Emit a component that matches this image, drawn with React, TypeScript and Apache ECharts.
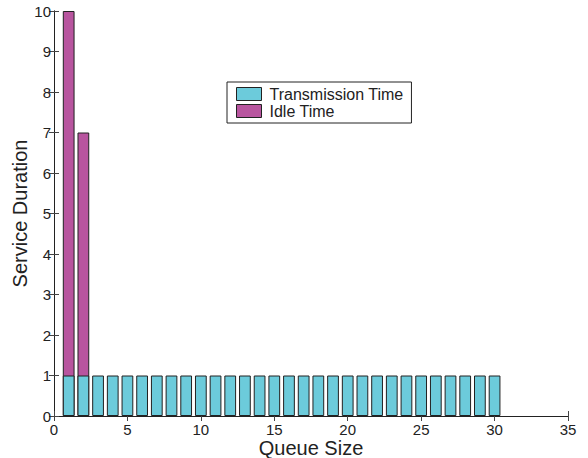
import React, { useEffect, useRef } from "react";
import * as echarts from "echarts";

const queueSizes = Array.from({ length: 30 }, (_, i) => i + 1);
const transmissionTime = [1, 1, 1, 1, 1, 1, 1, 1, 1, 1, 1, 1, 1, 1, 1, 1, 1, 1, 1, 1, 1, 1, 1, 1, 1, 1, 1, 1, 1, 1];
const idleTime = [9, 6, 0, 0, 0, 0, 0, 0, 0, 0, 0, 0, 0, 0, 0, 0, 0, 0, 0, 0, 0, 0, 0, 0, 0, 0, 0, 0, 0, 0];
const xTicks = { min: 0, max: 35, interval: 5 };
const yTicks = { min: 0, max: 10, interval: 1 };

const W = 588;
const H = 458;
const GRID = { left: 54, top: 11, right: 20, bottom: 42 };
const FONT = "Liberation Sans, Arial, Helvetica, sans-serif";

export default function App() {
  const ref = useRef<HTMLDivElement>(null);
  useEffect(() => {
    if (!ref.current) return;
    const chart = echarts.init(ref.current, null, { renderer: "svg" });
    const plotW = W - GRID.left - GRID.right;
    const barW = (plotW / (xTicks.max - xTicks.min)) * 0.8;
    const axisLine = { show: true, lineStyle: { color: "#222", width: 1 } };
    const tick = { show: true, inside: true, length: 5, lineStyle: { color: "#444" } };
    // Idle time is stacked on top of transmission time: the idle bar is drawn
    // first from 0 to (transmission + idle), the transmission bar over it.
    const idleTop = queueSizes
      .map((q, i) => (idleTime[i] > 0 ? [q, transmissionTime[i] + idleTime[i]] : null))
      .filter((d) => d !== null);
    chart.setOption({
      animation: false,
      backgroundColor: "#fff",
      textStyle: { fontFamily: FONT },
      grid: { ...GRID, containLabel: false, outerBoundsMode: "none" },
      legend: {
        left: 227,
        top: 82,
        orient: "vertical",
        borderColor: "#222",
        borderWidth: 1,
        padding: [4, 8, 4, 9],
        itemWidth: 25,
        itemHeight: 13,
        itemGap: 1,
        icon: "rect",
        backgroundColor: "#fff",
        textStyle: { fontFamily: FONT, fontSize: 16, color: "#222", padding: [0, 0, 0, 3] },
        data: [
          { name: "Transmission Time", itemStyle: { borderColor: "#222", borderWidth: 1 } },
          { name: "Idle Time", itemStyle: { borderColor: "#222", borderWidth: 1 } },
        ],
      },
      xAxis: [
        {
          type: "value",
          min: xTicks.min,
          max: xTicks.max,
          interval: xTicks.interval,
          name: "Queue Size",
          nameLocation: "middle",
          nameGap: 22,
          nameMoveOverlap: false,
          nameTextStyle: { fontSize: 20, lineHeight: 20, color: "#222", fontFamily: FONT, verticalAlign: "top" },
          axisLine,
          axisTick: tick,
          splitLine: { show: false },
          axisLabel: { fontSize: 15, lineHeight: 15, color: "#222", margin: 6, fontFamily: FONT },
        },
        {
          type: "value",
          position: "top",
          min: xTicks.min,
          max: xTicks.max,
          interval: xTicks.interval,
          axisLine,
          axisTick: tick,
          splitLine: { show: false },
          axisLabel: { show: false },
        },
      ],
      yAxis: [
        {
          type: "value",
          min: yTicks.min,
          max: yTicks.max,
          interval: yTicks.interval,
          name: "Service Duration",
          nameLocation: "middle",
          nameGap: 24,
          nameMoveOverlap: false,
          nameTextStyle: { fontSize: 20, color: "#222", fontFamily: FONT },
          axisLine,
          axisTick: tick,
          splitLine: { show: false },
          axisLabel: { fontSize: 15, color: "#222", margin: 3, fontFamily: FONT },
        },
        {
          type: "value",
          position: "right",
          min: yTicks.min,
          max: yTicks.max,
          interval: yTicks.interval,
          axisLine,
          axisTick: tick,
          splitLine: { show: false },
          axisLabel: { show: false },
        },
      ],
      series: [
        {
          name: "Idle Time",
          type: "bar",
          barWidth: barW,
          barGap: "-100%",
          z: 2,
          data: idleTop,
          itemStyle: { color: "#b8559f", borderColor: "#222", borderWidth: 1 },
        },
        {
          name: "Transmission Time",
          type: "bar",
          barWidth: barW,
          barGap: "-100%",
          z: 3,
          data: queueSizes.map((q, i) => [q, transmissionTime[i]]),
          itemStyle: { color: "#6ccbdb", borderColor: "#222", borderWidth: 1 },
        },
      ],
    });
    return () => chart.dispose();
  }, []);
  return (
    <div
      ref={ref}
      style={{ position: "fixed", left: 0, top: 0, width: W, height: H, background: "#fff" }}
    />
  );
}
